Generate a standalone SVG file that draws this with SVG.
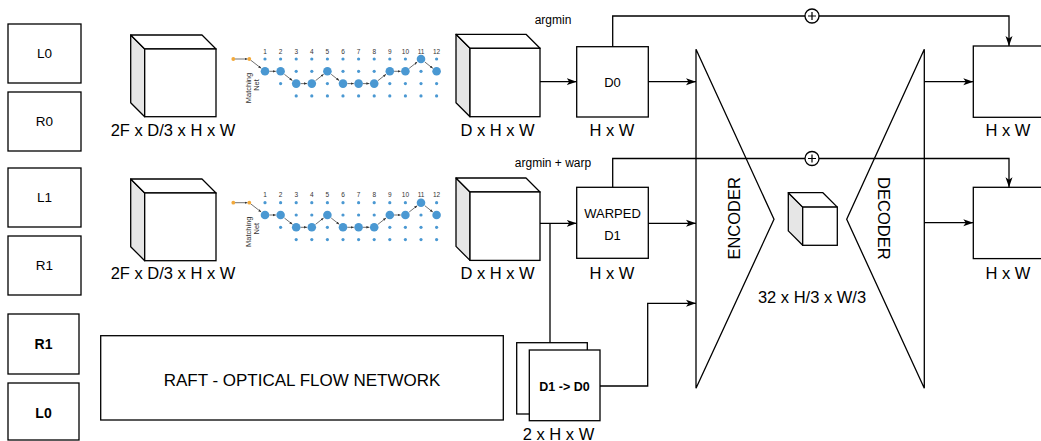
<svg xmlns="http://www.w3.org/2000/svg" width="1041" height="441" viewBox="0 0 1041 441">
<style>
text{font-family:"Liberation Sans",Arial,Helvetica,sans-serif;fill:#000}
.box{fill:#fff;stroke:#000;stroke-width:1.3}
.side{fill:#e6e6e6;stroke:#000;stroke-width:1.3;stroke-linejoin:round}
.top{fill:#fff;stroke:#000;stroke-width:1.3;stroke-linejoin:round}
.lbl{font-size:16.5px;text-anchor:middle}
.in{font-size:13.5px;text-anchor:middle}
.inb{font-size:14px;font-weight:bold;text-anchor:middle}
.sm{font-size:12px;text-anchor:middle}
.conn{fill:none;stroke:#000;stroke-width:1.3}
.arr{marker-end:url(#ah)}
.mn{fill:none;stroke:#333;stroke-width:0.7;marker-end:url(#mah)}
.s{fill:#4a98d2}
.b{fill:#4a98d2}
.o{fill:#f2a93b}
.num{font-size:6.5px;text-anchor:middle;fill:#333}
.mt{font-size:7.5px;text-anchor:middle;fill:#333}
</style>
<defs>
<marker id="ah" markerUnits="userSpaceOnUse" markerWidth="11" markerHeight="8" refX="10" refY="4" orient="auto">
<path d="M0,0.5 L10,4 L0,7.5 L2.5,4 z" fill="#000"/>
</marker>
<marker id="mah" markerUnits="userSpaceOnUse" markerWidth="4" markerHeight="3" refX="3" refY="1.25" orient="auto">
<path d="M0,0 L3,1.25 L0,2.5 z" fill="#333"/>
</marker>
</defs>
<rect width="1041" height="441" fill="#fff"/>

<g id="in-L0"><rect class="box" x="8" y="24" width="73" height="59"/><text class="in" x="44.5" y="58">L0</text></g>
<g id="in-R0"><rect class="box" x="8" y="92" width="73" height="59"/><text class="in" x="44.5" y="126">R0</text></g>
<g id="in-L1"><rect class="box" x="8" y="168" width="73" height="59"/><text class="in" x="44.5" y="202">L1</text></g>
<g id="in-R1"><rect class="box" x="8" y="236" width="73" height="59"/><text class="in" x="44.5" y="270">R1</text></g>
<g id="in-R1b"><rect class="box" x="8" y="314" width="71" height="60"/><text class="inb" x="43.5" y="349">R1</text></g>
<g id="in-L0b"><rect class="box" x="8" y="383" width="71" height="57"/><text class="inb" x="43.5" y="418">L0</text></g>

<g id="cube-feat-0">
<polygon class="side" points="130.7,35 144.7,49 144.7,116.7 130.7,102.7"/>
<polygon class="top" points="130.7,35 202,35 216,49 144.7,49"/>
<rect class="box" x="144.7" y="49" width="71.3" height="67.7"/>
<text class="lbl" x="173" y="136">2F x D/3 x H x W</text>
</g>
<g id="cube-feat-1">
<polygon class="side" points="130.7,179 144.7,193 144.7,260.7 130.7,246.7"/>
<polygon class="top" points="130.7,179 202,179 216,193 144.7,193"/>
<rect class="box" x="144.7" y="193" width="71.3" height="67.7"/>
<text class="lbl" x="173" y="279">2F x D/3 x H x W</text>
</g>

<g id="matching-net-0">
<line class="mn" x1="235" y1="59" x2="247.5" y2="59"/>
<line class="mn" x1="250.5" y1="60" x2="261.2" y2="68.3"/>
<line class="mn" x1="269.3" y1="71.3" x2="275.8" y2="71.3"/>
<line class="mn" x1="284.4" y1="74.3" x2="292.4" y2="80.6"/>
<line class="mn" x1="300.5" y1="83.6" x2="307" y2="83.6"/>
<line class="mn" x1="315.6" y1="80.6" x2="323.6" y2="74.3"/>
<line class="mn" x1="331.2" y1="74.3" x2="339.2" y2="80.6"/>
<line class="mn" x1="347.3" y1="83.6" x2="353.8" y2="83.6"/>
<line class="mn" x1="362.9" y1="83.6" x2="369.4" y2="83.6"/>
<line class="mn" x1="378" y1="80.6" x2="386" y2="74.3"/>
<line class="mn" x1="394.1" y1="71.3" x2="400.6" y2="71.3"/>
<line class="mn" x1="409.2" y1="68.3" x2="417.2" y2="62"/>
<line class="mn" x1="424.8" y1="62" x2="432.8" y2="68.3"/>
<circle class="o" cx="233.3" cy="59" r="1.9"/><circle class="o" cx="249.3" cy="59" r="1.9"/>
<text class="num" x="265" y="53.5">1</text><text class="num" x="280.6" y="53.5">2</text><text class="num" x="296.2" y="53.5">3</text><text class="num" x="311.8" y="53.5">4</text><text class="num" x="327.4" y="53.5">5</text><text class="num" x="343" y="53.5">6</text><text class="num" x="358.6" y="53.5">7</text><text class="num" x="374.2" y="53.5">8</text><text class="num" x="389.8" y="53.5">9</text><text class="num" x="405.4" y="53.5">10</text><text class="num" x="421" y="53.5">11</text><text class="num" x="436.6" y="53.5">12</text>
<circle class="s" cx="265" cy="59" r="1.6"/><circle class="b" cx="265" cy="71.3" r="4.3"/>
<circle class="s" cx="280.6" cy="59" r="1.6"/><circle class="b" cx="280.6" cy="71.3" r="4.3"/><circle class="s" cx="280.6" cy="83.6" r="1.6"/>
<circle class="s" cx="296.2" cy="59" r="1.6"/><circle class="s" cx="296.2" cy="71.3" r="1.6"/><circle class="b" cx="296.2" cy="83.6" r="4.3"/><circle class="s" cx="296.2" cy="95.9" r="1.6"/>
<circle class="s" cx="311.8" cy="59" r="1.6"/><circle class="s" cx="311.8" cy="71.3" r="1.6"/><circle class="b" cx="311.8" cy="83.6" r="4.3"/><circle class="s" cx="311.8" cy="95.9" r="1.6"/>
<circle class="s" cx="327.4" cy="59" r="1.6"/><circle class="b" cx="327.4" cy="71.3" r="4.3"/><circle class="s" cx="327.4" cy="83.6" r="1.6"/><circle class="s" cx="327.4" cy="95.9" r="1.6"/>
<circle class="s" cx="343" cy="59" r="1.6"/><circle class="s" cx="343" cy="71.3" r="1.6"/><circle class="b" cx="343" cy="83.6" r="4.3"/><circle class="s" cx="343" cy="95.9" r="1.6"/>
<circle class="s" cx="358.6" cy="59" r="1.6"/><circle class="s" cx="358.6" cy="71.3" r="1.6"/><circle class="b" cx="358.6" cy="83.6" r="4.3"/><circle class="s" cx="358.6" cy="95.9" r="1.6"/>
<circle class="s" cx="374.2" cy="59" r="1.6"/><circle class="s" cx="374.2" cy="71.3" r="1.6"/><circle class="b" cx="374.2" cy="83.6" r="4.3"/><circle class="s" cx="374.2" cy="95.9" r="1.6"/>
<circle class="s" cx="389.8" cy="59" r="1.6"/><circle class="b" cx="389.8" cy="71.3" r="4.3"/><circle class="s" cx="389.8" cy="83.6" r="1.6"/><circle class="s" cx="389.8" cy="95.9" r="1.6"/>
<circle class="s" cx="405.4" cy="59" r="1.6"/><circle class="b" cx="405.4" cy="71.3" r="4.3"/><circle class="s" cx="405.4" cy="83.6" r="1.6"/><circle class="s" cx="405.4" cy="95.9" r="1.6"/>
<circle class="b" cx="421" cy="59" r="4.3"/><circle class="s" cx="421" cy="71.3" r="1.6"/><circle class="s" cx="421" cy="83.6" r="1.6"/><circle class="s" cx="421" cy="95.9" r="1.6"/>
<circle class="s" cx="436.6" cy="59" r="1.6"/><circle class="b" cx="436.6" cy="71.3" r="4.3"/><circle class="s" cx="436.6" cy="83.6" r="1.6"/><circle class="s" cx="436.6" cy="95.9" r="1.6"/>
<text class="mt" transform="translate(251,88) rotate(-90)">Matching</text>
<text class="mt" transform="translate(259,85) rotate(-90)">Net</text>
</g>

<g id="matching-net-1" transform="translate(0,143.7)">
<line class="mn" x1="235" y1="59" x2="247.5" y2="59"/>
<line class="mn" x1="250.5" y1="60" x2="261.2" y2="68.3"/>
<line class="mn" x1="269.3" y1="71.3" x2="275.8" y2="71.3"/>
<line class="mn" x1="284.4" y1="74.3" x2="292.4" y2="80.6"/>
<line class="mn" x1="300.5" y1="83.6" x2="307" y2="83.6"/>
<line class="mn" x1="315.6" y1="80.6" x2="323.6" y2="74.3"/>
<line class="mn" x1="331.2" y1="74.3" x2="339.2" y2="80.6"/>
<line class="mn" x1="347.3" y1="83.6" x2="353.8" y2="83.6"/>
<line class="mn" x1="362.9" y1="83.6" x2="369.4" y2="83.6"/>
<line class="mn" x1="378" y1="80.6" x2="386" y2="74.3"/>
<line class="mn" x1="394.1" y1="71.3" x2="400.6" y2="71.3"/>
<line class="mn" x1="409.2" y1="68.3" x2="417.2" y2="62"/>
<line class="mn" x1="424.8" y1="62" x2="432.8" y2="68.3"/>
<circle class="o" cx="233.3" cy="59" r="1.9"/><circle class="o" cx="249.3" cy="59" r="1.9"/>
<text class="num" x="265" y="53.5">1</text><text class="num" x="280.6" y="53.5">2</text><text class="num" x="296.2" y="53.5">3</text><text class="num" x="311.8" y="53.5">4</text><text class="num" x="327.4" y="53.5">5</text><text class="num" x="343" y="53.5">6</text><text class="num" x="358.6" y="53.5">7</text><text class="num" x="374.2" y="53.5">8</text><text class="num" x="389.8" y="53.5">9</text><text class="num" x="405.4" y="53.5">10</text><text class="num" x="421" y="53.5">11</text><text class="num" x="436.6" y="53.5">12</text>
<circle class="s" cx="265" cy="59" r="1.6"/><circle class="b" cx="265" cy="71.3" r="4.3"/>
<circle class="s" cx="280.6" cy="59" r="1.6"/><circle class="b" cx="280.6" cy="71.3" r="4.3"/><circle class="s" cx="280.6" cy="83.6" r="1.6"/>
<circle class="s" cx="296.2" cy="59" r="1.6"/><circle class="s" cx="296.2" cy="71.3" r="1.6"/><circle class="b" cx="296.2" cy="83.6" r="4.3"/><circle class="s" cx="296.2" cy="95.9" r="1.6"/>
<circle class="s" cx="311.8" cy="59" r="1.6"/><circle class="s" cx="311.8" cy="71.3" r="1.6"/><circle class="b" cx="311.8" cy="83.6" r="4.3"/><circle class="s" cx="311.8" cy="95.9" r="1.6"/>
<circle class="s" cx="327.4" cy="59" r="1.6"/><circle class="b" cx="327.4" cy="71.3" r="4.3"/><circle class="s" cx="327.4" cy="83.6" r="1.6"/><circle class="s" cx="327.4" cy="95.9" r="1.6"/>
<circle class="s" cx="343" cy="59" r="1.6"/><circle class="s" cx="343" cy="71.3" r="1.6"/><circle class="b" cx="343" cy="83.6" r="4.3"/><circle class="s" cx="343" cy="95.9" r="1.6"/>
<circle class="s" cx="358.6" cy="59" r="1.6"/><circle class="s" cx="358.6" cy="71.3" r="1.6"/><circle class="b" cx="358.6" cy="83.6" r="4.3"/><circle class="s" cx="358.6" cy="95.9" r="1.6"/>
<circle class="s" cx="374.2" cy="59" r="1.6"/><circle class="s" cx="374.2" cy="71.3" r="1.6"/><circle class="b" cx="374.2" cy="83.6" r="4.3"/><circle class="s" cx="374.2" cy="95.9" r="1.6"/>
<circle class="s" cx="389.8" cy="59" r="1.6"/><circle class="b" cx="389.8" cy="71.3" r="4.3"/><circle class="s" cx="389.8" cy="83.6" r="1.6"/><circle class="s" cx="389.8" cy="95.9" r="1.6"/>
<circle class="s" cx="405.4" cy="59" r="1.6"/><circle class="b" cx="405.4" cy="71.3" r="4.3"/><circle class="s" cx="405.4" cy="83.6" r="1.6"/><circle class="s" cx="405.4" cy="95.9" r="1.6"/>
<circle class="b" cx="421" cy="59" r="4.3"/><circle class="s" cx="421" cy="71.3" r="1.6"/><circle class="s" cx="421" cy="83.6" r="1.6"/><circle class="s" cx="421" cy="95.9" r="1.6"/>
<circle class="s" cx="436.6" cy="59" r="1.6"/><circle class="b" cx="436.6" cy="71.3" r="4.3"/><circle class="s" cx="436.6" cy="83.6" r="1.6"/><circle class="s" cx="436.6" cy="95.9" r="1.6"/>
<text class="mt" transform="translate(251,88) rotate(-90)">Matching</text>
<text class="mt" transform="translate(259,85) rotate(-90)">Net</text>
</g>

<g id="cube-cost-0">
<polygon class="side" points="456,34.3 470,48.3 470,116.7 456,102.7"/>
<polygon class="top" points="456,34.3 526,34.3 540,48.3 470,48.3"/>
<rect class="box" x="470" y="48.3" width="70" height="68.4"/>
<text class="lbl" x="497.5" y="136">D x H x W</text>
</g>
<g id="cube-cost-1">
<polygon class="side" points="456,178 470,192 470,260.4 456,246.4"/>
<polygon class="top" points="456,178 526,178 540,192 470,192"/>
<rect class="box" x="470" y="192" width="70" height="68.4"/>
<text class="lbl" x="497.5" y="279">D x H x W</text>
</g>

<g id="label-argmin"><text class="sm" x="553" y="23.5">argmin</text></g>
<g id="label-argmin-warp"><text class="sm" x="553" y="166.5">argmin + warp</text></g>

<g id="disp-D0">
<rect class="box" x="576.7" y="46.7" width="71.6" height="70.3"/>
<text class="in" style="font-size:13px" x="612.5" y="87.2">D0</text>
<text class="lbl" x="612" y="136">H x W</text>
</g>
<g id="disp-D1">
<rect class="box" x="576.7" y="187.3" width="71.6" height="71"/>
<text class="in" style="font-size:13px" x="612.5" y="218">WARPED</text>
<text class="in" style="font-size:13px" x="612.5" y="239.5">D1</text>
<text class="lbl" x="612" y="279">H x W</text>
</g>

<g id="raft">
<rect class="box" x="100.7" y="335.7" width="402.6" height="84.3"/>
<text class="lbl" style="font-size:17px" x="302" y="386">RAFT - OPTICAL FLOW NETWORK</text>
</g>

<g id="flow-D1-D0">
<rect class="box" x="516.7" y="342.7" width="70.6" height="71.3"/>
<rect class="box" x="529.3" y="350" width="70.7" height="70.7"/>
<text class="in" style="font-size:12.5px;font-weight:bold" x="564.5" y="391">D1 -&gt; D0</text>
<text class="lbl" x="558.5" y="440">2 x H x W</text>
</g>

<g id="encoder">
<polygon class="box" points="696,49.3 774,219.3 696,388.3"/>
<text class="lbl" transform="translate(740,218.3) rotate(-90)">ENCODER</text>
</g>
<g id="decoder">
<polygon class="box" points="924.3,49.3 846.7,219.3 924.3,388.3"/>
<text class="lbl" transform="translate(878.3,218.3) rotate(90)">DECODER</text>
</g>
<g id="latent">
<polygon class="side" points="788.3,192.7 802.7,207.1 802.7,245.3 788.3,230.9"/>
<polygon class="top" points="788.3,192.7 822.9,192.7 837.3,207.1 802.7,207.1"/>
<rect class="box" x="802.7" y="207.1" width="34.6" height="38.2"/>
<text class="lbl" x="812" y="302.5">32 x H/3 x W/3</text>
</g>

<g id="out-0">
<rect class="box" x="973.3" y="46" width="70" height="71.3"/>
<text class="lbl" x="1008" y="136">H x W</text>
</g>
<g id="out-1">
<rect class="box" x="973.3" y="187.3" width="70" height="71.3"/>
<text class="lbl" x="1008" y="279">H x W</text>
</g>

<g id="connectors">
<path class="conn arr" d="M540,81.7 H576.7"/>
<path class="conn arr" d="M648.3,81.7 H696"/>
<path class="conn arr" d="M612.7,46.7 V16 H1009 V46"/>
<path class="conn arr" d="M540,223.3 H576.7"/>
<path class="conn arr" d="M648.3,223.3 H696"/>
<path class="conn arr" d="M612.7,187.3 V158.5 H1009 V187.3"/>
<path class="conn" d="M550,223.3 V342.7"/>
<path class="conn arr" d="M600,386 H647.7 V303.3 H696"/>
<path class="conn arr" d="M924.3,81.7 H973.3"/>
<path class="conn arr" d="M924.3,222.7 H973.3"/>
<g id="sum-0">
<circle cx="812" cy="16" r="7" fill="#fff" stroke="#000" stroke-width="1.3"/>
<path d="M808,16 H816 M812,12 V20" stroke="#000" stroke-width="1.2"/>
</g>
<g id="sum-1">
<circle cx="812" cy="158.5" r="7" fill="#fff" stroke="#000" stroke-width="1.3"/>
<path d="M808,158.5 H816 M812,154.5 V162.5" stroke="#000" stroke-width="1.2"/>
</g>
</g>
</svg>
